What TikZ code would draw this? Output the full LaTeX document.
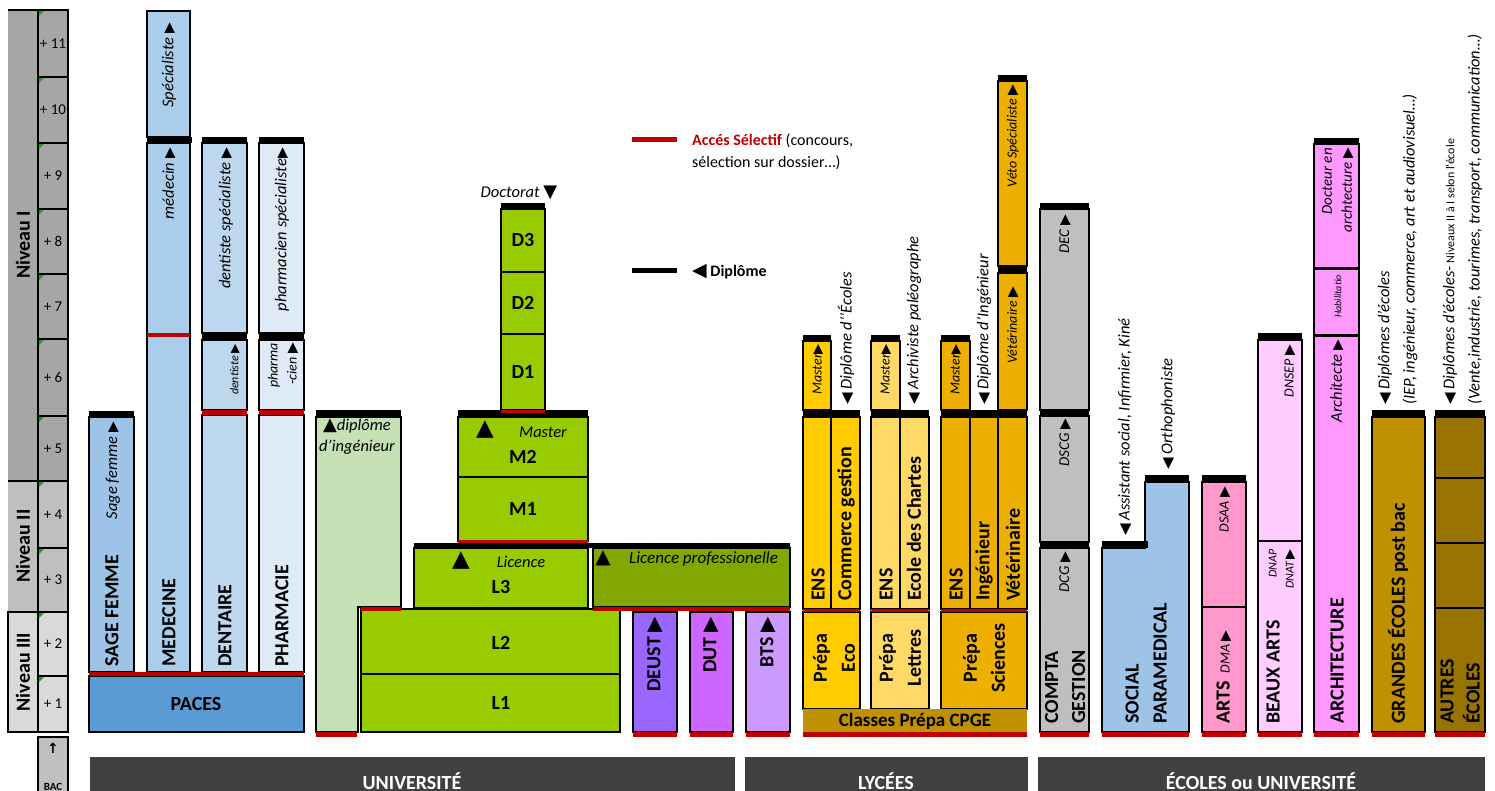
\documentclass[tikz,border=0pt]{standalone}
\usepackage{fontspec}
\setmainfont{Carlito}
\newfontfamily\sym{DejaVu Sans}
\usetikzlibrary{calc}
\definecolor{selred}{HTML}{C00000}
\definecolor{niva}{HTML}{A6A6A6}
\definecolor{nivb}{HTML}{BFBFBF}
\definecolor{nivc}{HTML}{D9D9D9}
\definecolor{cgreen}{HTML}{1E9E1E}
\definecolor{csage}{HTML}{9DC3E6}
\definecolor{cmed}{HTML}{A9CDEB}
\definecolor{cdent}{HTML}{BDD7EE}
\definecolor{cphar}{HTML}{DEEBF7}
\definecolor{cpaces}{HTML}{5B9BD5}
\definecolor{cing}{HTML}{C5E0B4}
\definecolor{clic}{HTML}{99CC00}
\definecolor{clpro}{HTML}{80A800}
\definecolor{cdeust}{HTML}{9966FF}
\definecolor{cdut}{HTML}{CC66FF}
\definecolor{cbts}{HTML}{CC99FF}
\definecolor{ceco}{HTML}{FFCC00}
\definecolor{clet}{HTML}{FFD966}
\definecolor{csci}{HTML}{EDB000}
\definecolor{ccpge}{HTML}{BF9000}
\definecolor{ccompta}{HTML}{BFBFBF}
\definecolor{csocial}{HTML}{9DC3E6}
\definecolor{carts}{HTML}{FF99CC}
\definecolor{cba}{HTML}{FFCCFF}
\definecolor{carch}{HTML}{FF99FF}
\definecolor{cgrandes}{HTML}{BF9000}
\definecolor{cautres}{HTML}{997300}
\definecolor{darkbar}{HTML}{404040}
\newcommand\fs[1]{\fontsize{#1}{#1}\selectfont}
\newcommand\tr[2][14]{{\sym\mdseries\upshape\fontsize{#1}{#1}\selectfont #2}}
\newcommand\boxat[6]{\node[bx,fill=#6,minimum width={(#4-#2)*1pt},minimum height={(#5-#3)*1pt},anchor=north west] (#1) at (#2,#3) {};}
\begin{document}
\begin{tikzpicture}[x=1pt,y=-1pt,
 bx/.style={draw=black,line width=1.5pt,inner sep=0pt,outer sep=0pt},
 tb/.style={line width=6pt,black},
 rb/.style={line width=4.5pt,selred},
 lab/.style={inner sep=0pt,font=\fs{20}\bfseries},
 it/.style={inner sep=0pt,font=\fs{16.5}\itshape},
 sit/.style={inner sep=0pt,font=\fs{14}\itshape},
 tit/.style={inner sep=0pt,font=\fs{12}\itshape},
 num/.style={inner sep=0pt,font=\fs{15}},
 bartxt/.style={inner sep=0pt,text=white,font=\fs{20}\bfseries},
]
\useasboundingbox (0,0) rectangle (1495,791);
\fill[white] (0,0) rectangle (1495,791);

% ---------- left axis ----------
\fill[niva] (8,10) rectangle (38,481);
\fill[nivb] (8,481) rectangle (38,612);
\path[bx,fill=nivc] (8,612) rectangle (38,732);
\draw[line width=1.5pt] (8,10) -- (38,10) (8,481) -- (38,481);
\foreach \n/\a/\b/\c in {11/10/77/niva,10/77/143/niva,9/143/209/niva,8/209/274/niva,7/274/339/niva,6/339/416/niva,5/416/481/niva,4/481/548/nivb,3/548/612/nivb,2/612/676/nivc,1/676/732/nivc}{
  \boxat{c\n}{38}{\a}{68}{\b}{\c}
  \node[num] at (53,{(\a+\b)/2}) {+ \n};
  \fill[cgreen] (39,\a+1) -- (44,\a+1) -- (39,\a+6) -- cycle;
}
\node[lab,rotate=90] (nivI) at (23,245) {Niveau I};
\node[lab,rotate=90] (nivII) at (23,546) {Niveau II};
\node[lab,rotate=90] (nivIII) at (23,672) {Niveau III};
\boxat{bac}{38}{737}{68}{800}{nivb}
\node[inner sep=0pt,font=\sym\bfseries\fs{14}] (bacarrow) at (53,748) {↑};
\node[inner sep=0pt,font=\fs{11}\bfseries] (bactxt) at (53,787) {BAC};

% ---------- medicine ----------
\boxat{sf}{89}{417}{134}{672}{csage}
\boxat{spec}{147}{11}{190}{137}{cmed}
\boxat{med}{147}{143}{190}{672}{cmed}
\boxat{dsp}{202}{143}{247}{333}{cdent}
\boxat{dnt}{202}{340}{247}{410}{cdent}
\boxat{den}{202}{415}{247}{672}{cdent}
\boxat{psp}{259}{143}{304}{333}{cphar}
\boxat{pcn}{259}{340}{304}{410}{cphar}
\boxat{pha}{259}{415}{304}{672}{cphar}
\boxat{paces}{89}{676}{304}{732}{cpaces}
\draw[tb] (89,413.5) -- (134,413.5);
\draw[tb] (147,140) -- (192,140);
\draw[tb] (202,140) -- (247,140) (259,140) -- (304,140);
\draw[tb,line width=7pt] (202,336.5) -- (247,336.5) (259,336.5) -- (304,336.5);
\draw[rb,line width=4pt] (147,335) -- (190,335);
\draw[rb] (202,412.5) -- (247,412.5) (259,412.5) -- (304,412.5);
\draw[rb,line width=4pt] (89,674) -- (304,674);

\node[lab,rotate=90,anchor=west] (sfl) at (112,667) {SAGE FEMME};
\node[it,rotate=90,anchor=east] (sfd) at (113,422) {Sage femme \tr{▶}};
\node[lab,rotate=90,anchor=west] (mel) at (169,667) {MEDECINE};
\node[it,rotate=90,anchor=east] (spd) at (169,23) {Spécialiste \tr{▶}};
\node[it,rotate=90,anchor=east] (mdd) at (169,148) {médecin \tr{▶}};
\node[lab,rotate=90,anchor=west] (del) at (225,667) {DENTAIRE};
\node[it,rotate=90,anchor=east] (dsd) at (226,148) {dentiste spécialiste \tr{▶}};
\node[tit,rotate=90,anchor=east] (ded) at (235,344) {dentiste \tr[12]{▶}};
\node[lab,rotate=90,anchor=west] (phl) at (282,667) {PHARMACIE};
\node[it,rotate=90,anchor=east] (psd) at (282,148) {pharmacien spécialiste\tr{▶}};
\node[sit,rotate=90,anchor=east,align=right,font=\fontsize{14}{19}\selectfont\itshape] (pcd) at (283,343) {pharma\\-cien \tr{▶}};
\node[lab] (pacesl) at (196,704) {PACES};

% ---------- university ----------
\path[bx,fill=cing] (316,417) -- (401,417) -- (401,607) -- (358,607) -- (358,732) -- (316,732) -- cycle;
\draw[tb,line width=7pt] (316,413.5) -- (401,413.5);
\draw[rb] (316,734.5) -- (357,734.5);
\node[it,align=center,font=\fontsize{16.5}{21}\selectfont\itshape] (ingd) at (357,437) {\tr[18]{▲}diplôme\\d'ingénieur};

\boxat{L2}{361}{609}{620}{674}{clic}
\boxat{L1}{361}{674}{620}{732}{clic}
\draw[rb,line width=4pt] (361,609) -- (401,609);
\boxat{L3}{414}{548}{588}{608}{clic}
\boxat{LP}{593}{548}{790}{607}{clpro}
\draw[tb,line width=5pt] (414,545.5) -- (790,545.5);
\draw[rb,line width=4pt] (593,609) -- (790,609);
\boxat{M1}{458}{477}{588}{541}{clic}
\draw[rb,line width=3pt] (458,541.5) -- (588,541.5);
\boxat{M2}{458}{417}{588}{477}{clic}
\draw[tb,line width=7pt] (458,413.5) -- (588,413.5);
\boxat{D3}{501}{209}{545}{272}{clic}
\boxat{D2}{501}{272}{545}{334}{clic}
\boxat{D1}{501}{334}{545}{410}{clic}
\draw[tb] (501,206) -- (545,206);
\draw[rb,line width=3pt] (501,411) -- (545,411);

\node[lab] at (D3) {D3};
\node[lab] at (D2) {D2};
\node[lab] at (D1) {D1};
\node[it] (doct) at (519,193) {Doctorat \tr[18]{▼}};
\node[inner sep=0pt] (m2t) at (485,430) {\tr[23]{▲}};
\node[it] (m2m) at (543,432) {Master};
\node[lab] at (523,457) {M2};
\node[lab] at (M1) {M1};
\node[inner sep=0pt] (l3t) at (461,561) {\tr[23]{▲}};
\node[it] (l3l) at (521,562) {Licence};
\node[lab] at (501,587) {L3};
\node[inner sep=0pt] (lpt) at (603,558) {\tr[20]{▲}};
\node[it,anchor=west,font=\fs{17}\itshape] (lpl) at (629,559) {Licence professionelle};
\node[lab] at (501,643) {L2};
\node[lab] at (501,703) {L1};

\boxat{deust}{633}{612}{677}{732}{cdeust}
\boxat{dut}{690}{612}{733}{732}{cdut}
\boxat{bts}{746}{612}{790}{732}{cbts}
\draw[rb] (633,734.5) -- (677,734.5) (690,734.5) -- (733,734.5) (746,734.5) -- (790,734.5);
\node[lab,rotate=90,anchor=east] (deustl) at (655,617) {DEUST \tr[20]{▶}};
\node[lab,rotate=90,anchor=east] (dutl) at (711,617) {DUT \tr[20]{▶}};
\node[lab,rotate=90,anchor=east] (btsl) at (768,617) {BTS \tr[20]{▶}};

% ---------- legend ----------
\coordinate (lr1) at (632,140); \coordinate (lr2) at (677,140);
\draw[rb,line width=5pt] (lr1) -- (lr2);
\node[inner sep=0pt,anchor=base west,font=\fs{16}] (leg1) at (692,146) {{\color{selred}\bfseries Accés Sélectif} (concours,};
\node[inner sep=0pt,anchor=base west,font=\fs{16}] (leg2) at (692,168) {sélection sur dossier…)};
\coordinate (lb1) at (632,271); \coordinate (lb2) at (677,271);
\draw[tb,line width=5pt] (lb1) -- (lb2);
\node[inner sep=0pt,anchor=base west,font=\fs{16}\bfseries] (leg3) at (692,277) {\tr[19]{◀} Diplôme};

% ---------- lycées ----------
\boxat{mst1}{803}{341}{831}{410}{ceco}
\boxat{ens1}{803}{417}{831}{609}{ceco}
\boxat{com}{831}{417}{860}{609}{ceco}
\boxat{pre1}{803}{612}{860}{709}{ceco}
\boxat{mst2}{871}{341}{900}{410}{clet}
\boxat{ens2}{871}{417}{900}{609}{clet}
\boxat{cha}{900}{417}{929}{609}{clet}
\boxat{pre2}{871}{612}{929}{709}{clet}
\boxat{mst3}{941}{341}{970}{410}{csci}
\boxat{ens3}{941}{417}{970}{609}{csci}
\boxat{ingn}{970}{417}{998}{609}{csci}
\boxat{vet}{998}{417}{1027}{609}{csci}
\boxat{vet2}{998}{273}{1027}{410}{csci}
\boxat{vsp}{998}{81}{1027}{266}{csci}
\boxat{pre3}{941}{612}{1027}{709}{csci}
\fill[ccpge] (803,709) rectangle (1027,732);
\draw[tb] (803,338) -- (831,338) (871,338) -- (900,338) (941,338) -- (970,338);
\draw[tb] (998,78) -- (1027,78);
\draw[tb,line width=7pt] (998,269.5) -- (1027,269.5);
\draw[tb,line width=7pt] (803,413.5) -- (860,413.5) (871,413.5) -- (929,413.5) (941,413.5) -- (1027,413.5);
\draw[rb,line width=3.5pt] (803,610.5) -- (860,610.5) (871,610.5) -- (929,610.5) (941,610.5) -- (1027,610.5);
\draw[rb] (803,734.5) -- (1027,734.5);

\node[sit,rotate=90,anchor=east] at (818,344) {Master\tr[13]{▶}};
\node[sit,rotate=90,anchor=east] at (886,344) {Master\tr[13]{▶}};
\node[sit,rotate=90,anchor=east] at (956,344) {Master\tr[13]{▶}};
\node[lab,rotate=90,anchor=west] at (818,601) {ENS};
\node[lab,rotate=90,anchor=west] at (886,601) {ENS};
\node[lab,rotate=90,anchor=west] at (956,601) {ENS};
\node[lab,rotate=90,anchor=west] at (846,601) {Commerce gestion};
\node[lab,rotate=90,anchor=west] at (914,601) {Ecole des Chartes};
\node[lab,rotate=90,anchor=west] at (984,601) {Ingénieur};
\node[lab,rotate=90,anchor=west] at (1013,601) {Vétérinaire};
\node[lab,rotate=90,align=center,font=\fontsize{20}{28}\selectfont\bfseries] at (834,658) {Prépa\\Eco};
\node[lab,rotate=90,align=center,font=\fontsize{20}{28}\selectfont\bfseries] at (900,658) {Prépa\\Lettres};
\node[lab,rotate=90,align=center,font=\fontsize{20}{28}\selectfont\bfseries] at (984,658) {Prépa\\Sciences};
\node[it,rotate=90,anchor=west] at (846,405) {\tr[15]{◀} Diplôme d'{}'Écoles};
\node[it,rotate=90,anchor=west] at (914,405) {\tr[15]{◀} Archiviste paléographe};
\node[it,rotate=90,anchor=west] at (984,405) {\tr[15]{◀} Diplôme d'Ingénieur};
\node[sit,rotate=90,anchor=east] at (1013,85) {Véto Spécialiste \tr{▶}};
\node[sit,rotate=90,anchor=east] at (1013,287) {Vétérinaire \tr{▶}};
\node[lab,font=\fs{19}\bfseries] (cpge) at (915,721) {Classes Prépa CPGE};

% ---------- écoles ----------
\boxat{dec}{1040}{209}{1089}{410}{ccompta}
\boxat{dscg}{1040}{416}{1089}{542}{ccompta}
\boxat{dcg}{1040}{548}{1089}{732}{ccompta}
\draw[tb] (1040,206) -- (1089,206) (1040,413) -- (1089,413) (1040,545) -- (1089,545);
\draw[rb] (1040,734.5) -- (1089,734.5);
\node[sit,rotate=90,anchor=east,font=\fs{15}\itshape] at (1065,215) {DEC \tr{▶}};
\node[sit,rotate=90,anchor=east,font=\fs{15}\itshape] at (1065,419) {DSCG \tr{▶}};
\node[sit,rotate=90,anchor=east,font=\fs{15}\itshape] at (1065,552) {DCG \tr{▶}};
\node[lab,rotate=90,anchor=west,align=left,font=\fontsize{20}{27}\selectfont\bfseries] at (1065,724) {COMPTA\\GESTION};

\path[bx,fill=csocial] (1102,548) -- (1145,548) -- (1145,482) -- (1189,482) -- (1189,732) -- (1102,732) -- cycle;
\draw[tb,line width=7pt] (1102,544.5) -- (1148,544.5) (1145,478.5) -- (1189,478.5);
\draw[rb] (1102,734.5) -- (1189,734.5);
\node[lab,rotate=90,anchor=west,align=left,font=\fontsize{20}{28}\selectfont\bfseries] at (1146,724) {SOCIAL\\PARAMEDICAL};
\node[it,rotate=90,anchor=west] at (1125,536) {\tr[15]{◀} Assistant social, Infirmier, Kiné};
\node[it,rotate=90,anchor=west] at (1168,470) {\tr[15]{◀} Orthophoniste};

\boxat{dsaa}{1202}{482}{1246}{607}{carts}
\boxat{dma}{1202}{607}{1246}{732}{carts}
\draw[tb,line width=7pt] (1202,478.5) -- (1246,478.5);
\draw[rb] (1202,734.5) -- (1246,734.5);
\node[lab,rotate=90,anchor=west] at (1224,724) {ARTS\hspace{8pt}{\mdseries\itshape\fs{14}DMA \tr{▶}}};
\node[sit,rotate=90,anchor=east] at (1225,487) {DSAA \tr{▶}};

\boxat{dnsep}{1258}{340}{1302}{541}{cba}
\boxat{ba}{1258}{541}{1302}{732}{cba}
\draw[tb,line width=7pt] (1258,336.5) -- (1302,336.5);
\draw[rb] (1258,734.5) -- (1302,734.5);
\node[lab,rotate=90,anchor=west] at (1273,724) {BEAUX ARTS};
\node[tit,rotate=90,anchor=east,align=right,font=\fontsize{12}{17}\selectfont\itshape] at (1282,549) {DNAP\\DNAT \tr[13]{▶}};
\node[sit,rotate=90,anchor=east] at (1290,345) {DNSEP \tr{▶}};

\boxat{doc}{1314}{144}{1359}{269}{carch}
\boxat{hab}{1314}{269}{1359}{335}{carch}
\boxat{arc}{1314}{335}{1359}{732}{carch}
\draw[tb] (1314,141) -- (1359,141);
\draw[line width=3pt] (1314,269) -- (1359,269) (1314,335) -- (1359,335);
\draw[rb] (1314,734.5) -- (1359,734.5);
\node[lab,rotate=90,anchor=west] at (1337,724) {ARCHITECTURE};
\node[it,rotate=90,anchor=east] at (1337,340) {Architecte \tr{▶}};
\node[tit,rotate=90,anchor=east,font=\fs{10}\itshape] at (1338,275) {Habilitatio};
\node[sit,rotate=90,anchor=east,align=right,font=\fontsize{15}{20}\selectfont\itshape] at (1338,148) {Docteur en\\archtecture \tr{▶}};

\boxat{ge}{1372}{417}{1425}{732}{cgrandes}
\draw[tb,line width=7pt] (1372,413.5) -- (1425,413.5);
\draw[rb] (1372,734.5) -- (1425,734.5);
\node[lab,rotate=90,anchor=west] at (1398,724) {GRANDES ÉCOLES post bac};
\node[it,rotate=90,anchor=west] at (1385,405) {\tr[15]{◀} Diplômes d'écoles};
\node[it,rotate=90,anchor=west] at (1410,405) {(IEP, ingénieur, commerce, art et audiovisuel…)};

\boxat{au1}{1435}{417}{1485}{478}{cautres}
\boxat{au2}{1435}{478}{1485}{543}{cautres}
\boxat{au3}{1435}{543}{1485}{608}{cautres}
\boxat{au4}{1435}{608}{1485}{732}{cautres}
\draw[tb,line width=7pt] (1435,413.5) -- (1485,413.5);
\draw[rb] (1435,734.5) -- (1485,734.5);
\node[lab,rotate=90,anchor=west,align=left,font=\fontsize{20}{26}\selectfont\bfseries] at (1460,724) {AUTRES\\ÉCOLES};
\node[it,rotate=90,anchor=west] at (1450,405) {\tr[15]{◀} Diplômes d'écoles-{\upshape\fs{12} Niveaux II à I selon l'école}};
\node[it,rotate=90,anchor=west] at (1475,405) {(Vente,industrie, tourimes, transport, communication…)};

% ---------- bottom bars ----------
\fill[darkbar] (90,757) rectangle (735,800);
\fill[darkbar] (745,757) rectangle (1028,800);
\fill[darkbar] (1038,757) rectangle (1485,800);
\node[bartxt,anchor=base] (uni) at (412,789) {UNIVERSITÉ};
\node[bartxt,anchor=base] (lyc) at (886,789) {LYCÉES};
\node[bartxt,anchor=base] (eco) at (1261,789) {ÉCOLES ou UNIVERSITÉ};
\end{tikzpicture}
\end{document}
